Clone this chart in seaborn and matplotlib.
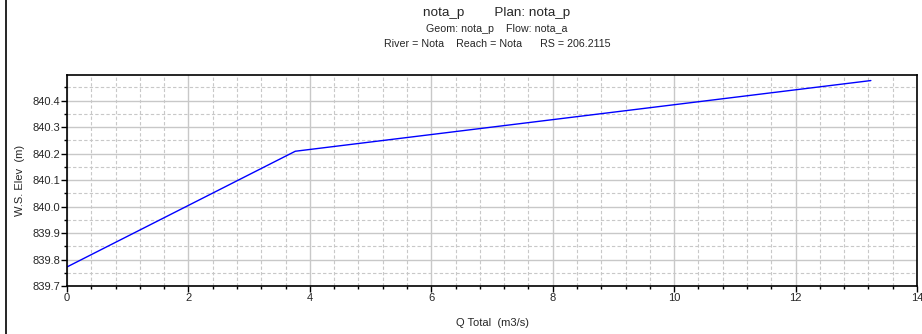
import matplotlib
matplotlib.use("Agg")
import matplotlib.pyplot as plt
import seaborn as sns
import pandas as pd
from matplotlib.ticker import MultipleLocator, FormatStrFormatter
from matplotlib.lines import Line2D

# rating curve values
q_total = [0.0, 3.76, 13.24]
ws_elev = [839.772, 840.209, 840.476]

sns.set_theme(style="white")
plt.rcParams['font.family'] = ['Liberation Sans', 'DejaVu Sans']

df = pd.DataFrame({"Q Total": q_total, "W.S. Elev": ws_elev})

fig = plt.figure(figsize=(9.22, 3.34), dpi=100)
ax = fig.add_axes([67 / 922, 1 - 286 / 334, 850 / 922, 211 / 334])

sns.lineplot(data=df, x="Q Total", y="W.S. Elev", color="#0000ff", linewidth=1.0, ax=ax)

ax.set_xlim(0, 14)
ax.set_ylim(839.7, 840.497)
ax.xaxis.set_major_locator(MultipleLocator(2))
ax.xaxis.set_minor_locator(MultipleLocator(0.4))
ax.yaxis.set_major_locator(MultipleLocator(0.1))
ax.yaxis.set_minor_locator(MultipleLocator(0.05))
ax.yaxis.set_major_formatter(FormatStrFormatter('%.1f'))

ax.grid(which="major", color="#c8c8c8", linewidth=1.0, linestyle="-")
ax.grid(which="minor", color="#c8c8c8", linewidth=0.8, linestyle=(0, (3, 2)))
ax.set_axisbelow(True)

for s in ax.spines.values():
    s.set_color("black")
    s.set_linewidth(1.2)

ax.tick_params(which="major", direction="out", length=4, width=1, color="black",
               labelsize=8, pad=1, bottom=True, left=True)
ax.tick_params(which="minor", direction="out", length=2.5, width=1, color="black",
               bottom=True, left=True)

ax.set_xlabel("Q Total  (m3/s)", fontsize=8, labelpad=11)
ax.set_ylabel("W.S. Elev  (m)", fontsize=8, labelpad=5)

cx = 497 / 922
fig.text(cx, 1 - 13 / 334, "nota_p        Plan: nota_p", ha="center", va="center", fontsize=9.7)
fig.text(cx, 1 - 29 / 334, "Geom: nota_p    Flow: nota_a", ha="center", va="center", fontsize=7.7)
fig.text(cx, 1 - 44 / 334, "River = Nota    Reach = Nota      RS = 206.2115", ha="center", va="center", fontsize=7.7)

# left frame line of the original window
fig.add_artist(Line2D([5.5 / 922, 5.5 / 922], [0, 1], color="black", linewidth=1.2))

fig.savefig("out.png", dpi=100)
